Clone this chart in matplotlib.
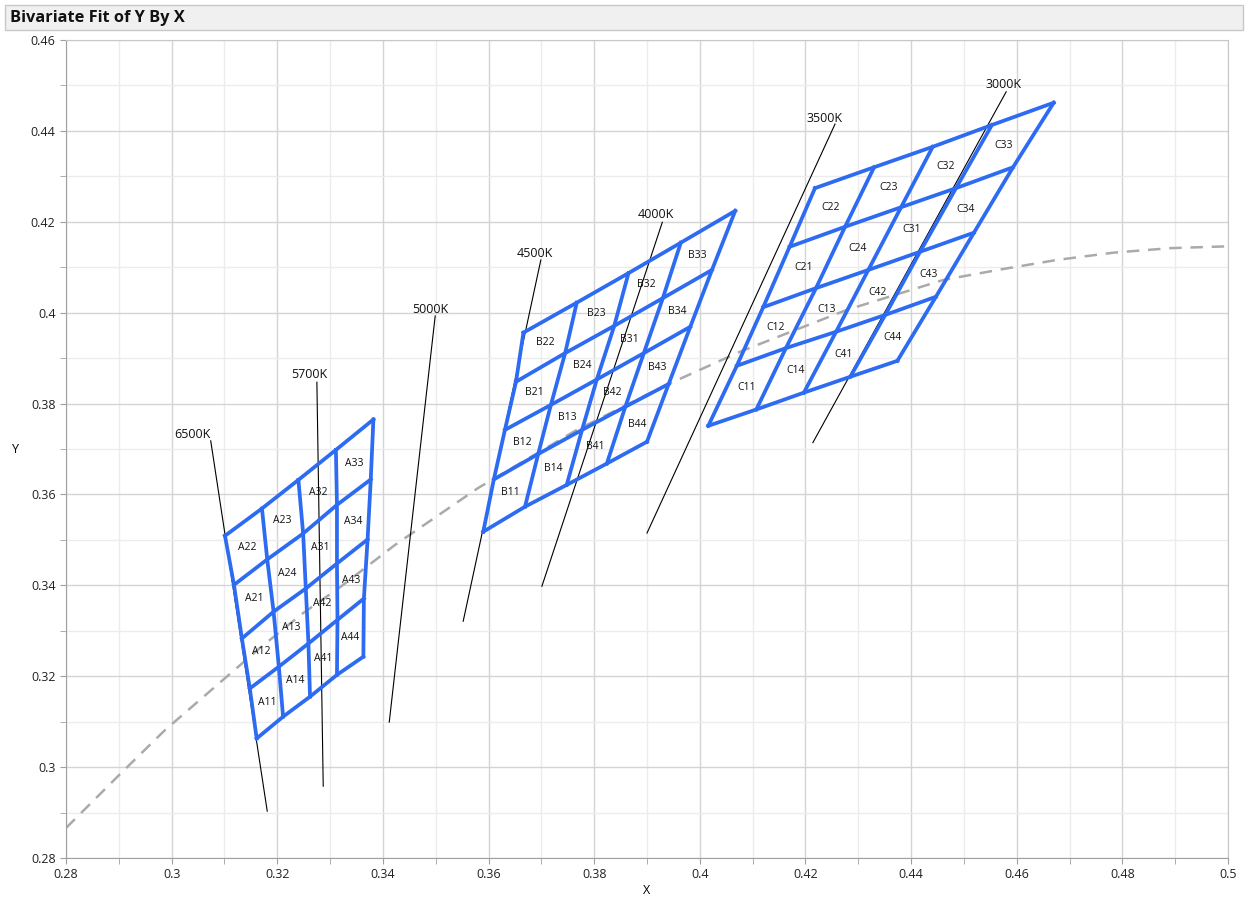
import matplotlib
matplotlib.use("Agg")
import matplotlib.pyplot as plt
from matplotlib.patches import Rectangle
from matplotlib.ticker import MultipleLocator, FuncFormatter

plt.rcParams['font.family'] = ['Open Sans', 'DejaVu Sans']

# grid nodes, rows from bottom (row 0) to top (row 4), columns left to right
a_x = [[0.3161, 0.3211, 0.3262, 0.3313, 0.3363],
       [0.3148, 0.3203, 0.3259, 0.3314, 0.3364],
       [0.3133, 0.3193, 0.3254, 0.3313, 0.3371],
       [0.3118, 0.3181, 0.3249, 0.3313, 0.3377],
       [0.3101, 0.3171, 0.3240, 0.3311, 0.3382]]
a_y = [[0.3063, 0.3111, 0.3155, 0.3203, 0.3243],
       [0.3173, 0.3221, 0.3272, 0.3324, 0.3371],
       [0.3283, 0.3342, 0.3393, 0.3448, 0.3501],
       [0.3401, 0.3457, 0.3514, 0.3577, 0.3633],
       [0.3509, 0.3569, 0.3632, 0.3698, 0.3765]]

b_x = [[0.3590, 0.3669, 0.3748, 0.3824, 0.3900],
       [0.3610, 0.3694, 0.3777, 0.3859, 0.3941],
       [0.3631, 0.3718, 0.3805, 0.3894, 0.3982],
       [0.3652, 0.3745, 0.3838, 0.3930, 0.4023],
       [0.3666, 0.3767, 0.3865, 0.3964, 0.4067]]
b_y = [[0.3518, 0.3573, 0.3621, 0.3668, 0.3716],
       [0.3633, 0.3689, 0.3742, 0.3793, 0.3843],
       [0.3742, 0.3797, 0.3853, 0.3911, 0.3969],
       [0.3848, 0.3911, 0.3971, 0.4032, 0.4094],
       [0.3956, 0.4022, 0.4087, 0.4154, 0.4224]]

c_x = [[0.4016, 0.4107, 0.4197, 0.4285, 0.4374],
       [0.4070, 0.4163, 0.4258, 0.4351, 0.4447],
       [0.4120, 0.4220, 0.4319, 0.4417, 0.4519],
       [0.4170, 0.4275, 0.4381, 0.4485, 0.4593],
       [0.4218, 0.4330, 0.4441, 0.4553, 0.4670]]
c_y = [[0.3751, 0.3787, 0.3824, 0.3859, 0.3894],
       [0.3883, 0.3922, 0.3958, 0.3995, 0.4035],
       [0.4012, 0.4054, 0.4094, 0.4134, 0.4176],
       [0.4145, 0.4189, 0.4232, 0.4274, 0.4320],
       [0.4274, 0.4320, 0.4365, 0.4413, 0.4462]]

# cell names, rows bottom to top
cell_names = [["11", "14", "41", "44"],
              ["12", "13", "42", "43"],
              ["21", "24", "31", "34"],
              ["22", "23", "32", "33"]]

# CCT lines: name, top point, bottom point, label point
cct_names = ["6500K", "5700K", "5000K", "4500K", "4000K", "3500K", "3000K"]
cct_top_x = [0.3074, 0.3275, 0.3499, 0.3699, 0.3929, 0.4256, 0.4580]
cct_top_y = [0.3718, 0.3847, 0.3993, 0.4116, 0.4199, 0.4415, 0.4486]
cct_bot_x = [0.3181, 0.3287, 0.3412, 0.3552, 0.3701, 0.3900, 0.4214]
cct_bot_y = [0.2903, 0.2958, 0.3099, 0.3321, 0.3398, 0.3515, 0.3714]
cct_lab_x = [0.3039, 0.3260, 0.3489, 0.3688, 0.3917, 0.4237, 0.4576]
cct_lab_y = [0.3731, 0.3863, 0.4008, 0.4131, 0.4215, 0.4428, 0.4501]

# fitted curve
curve_x = [0.2800, 0.2907, 0.2965, 0.2987, 0.3167, 0.3249, 0.3319, 0.3423, 0.3580,
           0.3767, 0.3937, 0.4076, 0.4278, 0.4461, 0.4569, 0.4676, 0.4783, 0.4891,
           0.5000]
curve_y = [0.2866, 0.2990, 0.3056, 0.3081, 0.3262, 0.3339, 0.3396, 0.3489, 0.3614,
           0.3742, 0.3841, 0.3914, 0.4006, 0.4072, 0.4095, 0.4116, 0.4132, 0.4142,
           0.4146]

blue = '#2D6BF2'

fig = plt.figure(figsize=(12.49, 9), dpi=100)
ax = fig.add_axes([66 / 1249, 42 / 900, 1162 / 1249, 818 / 900])

# header bar
fig.patches.append(Rectangle((5 / 1249, 870 / 900), 1238 / 1249, 25 / 900,
                             transform=fig.transFigure, facecolor='#f0f0f0',
                             edgecolor='#c8c8c8', lw=1))
fig.text(10 / 1249, 882 / 900, "Bivariate Fit of Y By X", fontsize=11.8,
         fontweight='bold', va='center', ha='left', color='#111111')

ax.plot(curve_x, curve_y, color='#aaaaaa', lw=1.8, ls=(0, (5, 3.5)), zorder=2)

for i in range(len(cct_names)):
    ax.plot([cct_top_x[i], cct_bot_x[i]], [cct_top_y[i], cct_bot_y[i]],
            color='black', lw=0.8, zorder=3)
    ax.text(cct_lab_x[i], cct_lab_y[i], cct_names[i], fontsize=9,
            ha='center', va='center', color='#111111', zorder=5)


def draw_grid(gx, gy, prefix):
    for r in range(5):
        ax.plot(gx[r], gy[r], color=blue, lw=2.7, zorder=4,
                solid_joinstyle='miter')
    for c in range(5):
        ax.plot([gx[r][c] for r in range(5)], [gy[r][c] for r in range(5)],
                color=blue, lw=2.7, zorder=4, solid_joinstyle='miter')
    for r in range(4):
        for c in range(4):
            cx = (gx[r][c] + gx[r][c + 1] + gx[r + 1][c] + gx[r + 1][c + 1]) / 4
            cy = (gy[r][c] + gy[r][c + 1] + gy[r + 1][c] + gy[r + 1][c + 1]) / 4
            ax.text(cx, cy, prefix + cell_names[r][c], fontsize=7.5,
                    ha='center', va='center', color='#111111', zorder=5)


draw_grid(a_x, a_y, "A")
draw_grid(b_x, b_y, "B")
draw_grid(c_x, c_y, "C")

ax.set_xlim(0.28, 0.5)
ax.set_ylim(0.28, 0.46)
ax.xaxis.set_major_locator(MultipleLocator(0.02))
ax.xaxis.set_minor_locator(MultipleLocator(0.01))
ax.yaxis.set_major_locator(MultipleLocator(0.02))
ax.yaxis.set_minor_locator(MultipleLocator(0.01))
fmt = FuncFormatter(lambda v, p: ("%.2f" % v).rstrip('0').rstrip('.'))
ax.xaxis.set_major_formatter(fmt)
ax.yaxis.set_major_formatter(fmt)
ax.grid(True, which='major', color='#d4d4d4', lw=1, zorder=0)
ax.grid(True, which='minor', color='#ececec', lw=1, zorder=0)
ax.set_axisbelow(True)
ax.tick_params(which='both', direction='out', length=4, color='#a0a0a0',
               labelsize=9, labelcolor='#222222')
for s in ax.spines.values():
    s.set_color('#c8c8c8')
ax.spines['left'].set_color('#a0a0a0')
ax.spines['bottom'].set_color('#a0a0a0')

fig.text(647 / 1249, 10 / 900, "X", fontsize=9, ha='center', va='center')
fig.text(15 / 1249, 451 / 900, "Y", fontsize=9, ha='center', va='center')

fig.savefig("out.png", dpi=100)
